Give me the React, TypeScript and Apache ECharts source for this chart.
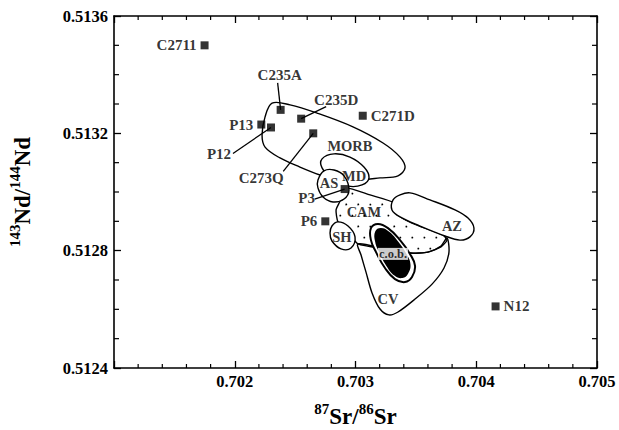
import React, { useEffect, useRef } from "react";
import * as echarts from "echarts";

// Axis extents (87Sr/86Sr on x, 143Nd/144Nd on y)
const X_MIN = 0.701;
const X_MAX = 0.705;
const X_STEP = 0.001;
const Y_MIN = 0.5124;
const Y_MAX = 0.5136;
const Y_STEP = 0.0004;

// Minor tick positions between the labelled ticks
const xMinorTicks = [
  0.7012, 0.7014, 0.7016, 0.7018, 0.7022, 0.7024, 0.7026, 0.7028,
  0.7032, 0.7034, 0.7036, 0.7038, 0.7042, 0.7044, 0.7046, 0.7048,
];
const yMinorTicks = [0.5125, 0.5126, 0.5127, 0.5129, 0.513, 0.5131, 0.5133, 0.5134, 0.5135];

// Analysed samples
const sampleNames = ["C2711", "C235A", "P13", "P12", "C235D", "C273Q", "C271D", "P3", "P6", "N12"];
const srRatio = [0.70175, 0.70238, 0.70222, 0.7023, 0.70255, 0.70265, 0.70306, 0.70291, 0.70275, 0.70416];
const ndRatio = [0.5135, 0.51328, 0.51323, 0.51322, 0.51325, 0.5132, 0.51326, 0.51301, 0.5129, 0.51261];

// Reference field outlines, in data units [Sr, Nd]
const morbField: [number, number][] = [
  [0.702309, 0.513303], [0.702458, 0.513297], [0.702681, 0.513269], [0.702979, 0.513222],
  [0.703228, 0.513167], [0.703369, 0.513119], [0.70341, 0.513082], [0.703352, 0.513055],
  [0.703203, 0.513048], [0.703037, 0.513041], [0.702872, 0.513038], [0.702706, 0.513058],
  [0.70254, 0.513085], [0.702375, 0.513116], [0.702251, 0.513153], [0.702226, 0.513194],
  [0.702251, 0.513256],
];
const camField: [number, number][] = [
  [0.702913, 0.513014], [0.70312, 0.51299], [0.703327, 0.512962], [0.703344, 0.512925],
  [0.703468, 0.512894], [0.703725, 0.512853], [0.703758, 0.512836], [0.703708, 0.512813],
  [0.7036, 0.512795], [0.703451, 0.512792], [0.703244, 0.512806], [0.703021, 0.512823],
  [0.702938, 0.512864], [0.702855, 0.512898], [0.702839, 0.512939], [0.702872, 0.512969],
];
const cvField: [number, number][] = [
  [0.703021, 0.512823], [0.703244, 0.512806], [0.703451, 0.512792], [0.7036, 0.512795],
  [0.703708, 0.512816], [0.703758, 0.512843], [0.703774, 0.512795], [0.703733, 0.512741],
  [0.703634, 0.512686], [0.703493, 0.512635], [0.703352, 0.512591], [0.703277, 0.512581],
  [0.703203, 0.512601], [0.703137, 0.512656], [0.703087, 0.512727], [0.703046, 0.512785],
];
const azField: [number, number][] = [
  [0.703369, 0.51299], [0.703451, 0.512997], [0.703617, 0.512973], [0.703824, 0.512939],
  [0.703932, 0.512911], [0.703981, 0.512877], [0.703948, 0.512847], [0.703865, 0.512836],
  [0.703741, 0.51285], [0.703534, 0.512884], [0.703369, 0.512915], [0.703302, 0.512939],
  [0.703311, 0.512973],
];
const shField: [number, number][] = [
  [0.702805, 0.512884], [0.702855, 0.512898], [0.702938, 0.512884], [0.702996, 0.512847],
  [0.702963, 0.512809], [0.70288, 0.512806], [0.702805, 0.512833], [0.702789, 0.51286],
];
const mdField: [number, number][] = [
  [0.702723, 0.513113], [0.702822, 0.51313], [0.702954, 0.513119], [0.70307, 0.513085],
  [0.703112, 0.513048], [0.703054, 0.513024], [0.702938, 0.51302], [0.702814, 0.513041],
  [0.702723, 0.513082],
];
const asField: [number, number][] = [
  [0.702689, 0.513041], [0.702739, 0.513072], [0.702822, 0.513075], [0.702905, 0.513055],
  [0.702946, 0.513007], [0.702905, 0.512976], [0.702814, 0.512966], [0.702731, 0.512983],
  [0.702689, 0.513014],
];
const cobField: [number, number][] = [
  [0.703128, 0.512877], [0.703186, 0.512891], [0.703269, 0.512877], [0.703369, 0.512836],
  [0.703451, 0.512789], [0.703493, 0.512748], [0.703468, 0.51271], [0.70341, 0.512693],
  [0.703327, 0.512703], [0.703244, 0.512741], [0.70317, 0.512795], [0.703128, 0.512836],
];

// Field names and where their names sit
const fieldNames = ["MORB", "AS", "MD", "CAM", "SH", "AZ", "CV", "c.o.b."];
const fieldLabelSr = [0.702954, 0.702781, 0.702988, 0.70307, 0.702888, 0.703799, 0.703269, 0.703311];
const fieldLabelNd = [0.513157, 0.513031, 0.513055, 0.512932, 0.512847, 0.512884, 0.512635, 0.512789];

const FONT = "Liberation Serif";

// Label placement for each sample (pixel offsets) and leader-line ends
const labelLayout: Record<string, { position?: string; offset?: [number, number]; leader?: [number, number] }> = {
  C2711: { position: "left" },
  C235A: { offset: [-1, -35], leader: [-3, -27] },
  P13: { position: "left" },
  P12: { offset: [-52, 27], leader: [-38, 26] },
  C235D: { offset: [35, -19], leader: [25, -12] },
  C273Q: { offset: [-52, 45], leader: [-30, 38] },
  C271D: { position: "right" },
  P3: { offset: [-38, 9], leader: [-30, 10] },
  P6: { position: "left" },
  N12: { position: "right" },
};

// Even-odd test of a pixel point against a polygon
function inside(px: number, py: number, poly: number[][]) {
  let c = false;
  for (let i = 0, j = poly.length - 1; i < poly.length; j = i++) {
    const [xi, yi] = poly[i];
    const [xj, yj] = poly[j];
    if (yi > py !== yj > py && px < ((xj - xi) * (py - yi)) / (yj - yi) + xi) c = !c;
  }
  return c;
}

function makeAxis(dir: "x" | "y", position: string, withLabels: boolean) {
  const isX = dir === "x";
  return {
    type: "value",
    min: isX ? X_MIN : Y_MIN,
    max: isX ? X_MAX : Y_MAX,
    interval: isX ? X_STEP : Y_STEP,
    position,
    axisLine: { show: true, onZero: false, lineStyle: { color: "#000", width: 1.6 } },
    axisTick: { show: true, inside: true, length: 7, lineStyle: { color: "#000", width: 1.3 } },
    splitLine: { show: false },
    axisLabel: {
      show: true,
      margin: isX ? 5 : 6,
      color: "#000",
      fontFamily: FONT,
      fontSize: 16.5,
      fontWeight: "bold",
      formatter: !withLabels
        ? () => ""
        : isX
        ? (v: number) => (v < X_MIN + X_STEP / 2 ? "" : v.toFixed(3))
        : (v: number) => v.toFixed(4),
    },
  };
}

export default function App() {
  const ref = useRef<HTMLDivElement>(null);

  useEffect(() => {
    if (!ref.current) return;
    const chart = echarts.init(ref.current, undefined, { renderer: "svg" });

    const fields = [
      { outline: morbField, fill: "none", smooth: 0.35, dots: false },
      { outline: camField, fill: "none", smooth: 0.2, dots: true },
      { outline: cvField, fill: "none", smooth: 0.3, dots: false },
      { outline: azField, fill: "#fff", smooth: 0.35, dots: false },
      { outline: shField, fill: "#fff", smooth: 0.4, dots: false },
      { outline: mdField, fill: "#fff", smooth: 0.4, dots: false },
      { outline: asField, fill: "#fff", smooth: 0.4, dots: false },
    ];

    const fieldSeries = fields.map((f) => ({
      type: "custom",
      silent: true,
      clip: false,
      data: [f.outline[0]],
      renderItem: (_p: any, api: any) => {
        const pts = f.outline.map((pt) => api.coord(pt));
        const children: any[] = [
          {
            type: "polygon",
            shape: { points: pts, smooth: f.smooth },
            style: { fill: f.fill, stroke: "#000", lineWidth: 1.4 },
          },
        ];
        if (f.dots) {
          // stippled fill: staggered dot grid kept inside the outline
          const xs = pts.map((p: number[]) => p[0]);
          const ys = pts.map((p: number[]) => p[1]);
          const x0 = Math.min(...xs), x1 = Math.max(...xs);
          const y0 = Math.min(...ys), y1 = Math.max(...ys);
          let row = 0;
          for (let y = y0 + 5; y < y1; y += 11, row++) {
            for (let x = x0 + 4 + (row % 2) * 6; x < x1; x += 12) {
              if (inside(x, y, pts) && inside(x + 3, y, pts) && inside(x - 3, y, pts) && inside(x, y + 3, pts) && inside(x, y - 3, pts)) {
                children.push({ type: "circle", shape: { cx: x, cy: y, r: 0.9 }, style: { fill: "#000" } });
              }
            }
          }
        }
        return { type: "group", children };
      },
    }));

    const cobSeries = {
      type: "custom",
      silent: true,
      clip: false,
      data: [cobField[0]],
      renderItem: (_p: any, api: any) => {
        const pts = cobField.map((pt) => api.coord(pt));
        const cx = pts.reduce((s: number, p: number[]) => s + p[0], 0) / pts.length;
        const cy = pts.reduce((s: number, p: number[]) => s + p[1], 0) / pts.length;
        const inner = pts.map((p: number[]) => [cx + (p[0] - cx) * 0.8, cy + (p[1] - cy) * 0.86]);
        return {
          type: "group",
          children: [
            { type: "polygon", shape: { points: pts, smooth: 0.45 }, style: { fill: "#fff", stroke: "#000", lineWidth: 2 } },
            { type: "polygon", shape: { points: inner, smooth: 0.45 }, style: { fill: "#000", stroke: "none" } },
          ],
        };
      },
    };

    // Minor ticks on all four sides of the frame
    const xMinorSeries = {
      type: "custom",
      silent: true,
      clip: false,
      data: xMinorTicks.map((v) => [v, Y_MIN]),
      renderItem: (params: any, api: any) => {
        const v = xMinorTicks[params.dataIndex];
        const b = api.coord([v, Y_MIN]);
        const t = api.coord([v, Y_MAX]);
        return {
          type: "group",
          children: [
            { type: "line", shape: { x1: b[0], y1: b[1], x2: b[0], y2: b[1] - 4 }, style: { stroke: "#000", lineWidth: 1.2 } },
            { type: "line", shape: { x1: t[0], y1: t[1], x2: t[0], y2: t[1] + 4 }, style: { stroke: "#000", lineWidth: 1.2 } },
          ],
        };
      },
    };
    const yMinorSeries = {
      type: "custom",
      silent: true,
      clip: false,
      data: yMinorTicks.map((v) => [X_MIN, v]),
      renderItem: (params: any, api: any) => {
        const v = yMinorTicks[params.dataIndex];
        const l = api.coord([X_MIN, v]);
        const r = api.coord([X_MAX, v]);
        return {
          type: "group",
          children: [
            { type: "line", shape: { x1: l[0], y1: l[1], x2: l[0] + 5, y2: l[1] }, style: { stroke: "#000", lineWidth: 1.2 } },
            { type: "line", shape: { x1: r[0], y1: r[1], x2: r[0] - 5, y2: r[1] }, style: { stroke: "#000", lineWidth: 1.2 } },
          ],
        };
      },
    };

    const leaderIdx = sampleNames.map((n, i) => (labelLayout[n].leader ? i : -1)).filter((i) => i >= 0);
    const leaderSeries = {
      type: "custom",
      silent: true,
      clip: false,
      data: leaderIdx.map((i) => [srRatio[i], ndRatio[i]]),
      renderItem: (params: any, api: any) => {
        const i = leaderIdx[params.dataIndex];
        const p = api.coord([srRatio[i], ndRatio[i]]);
        const d = labelLayout[sampleNames[i]].leader as [number, number];
        return {
          type: "line",
          shape: { x1: p[0], y1: p[1], x2: p[0] + d[0], y2: p[1] + d[1] },
          style: { stroke: "#000", lineWidth: 1.3 },
        };
      },
    };

    const fieldLabelSeries = {
      type: "scatter",
      silent: true,
      symbolSize: 0,
      data: fieldNames.map((n, i) => ({
        name: n,
        value: [fieldLabelSr[i], fieldLabelNd[i]],
        label:
          n === "c.o.b."
            ? { fontSize: 12.5, backgroundColor: "#fff", padding: [0, 1, -1, 1] }
            : {},
      })),
      label: {
        show: true,
        position: "inside",
        formatter: "{b}",
        color: "#000",
        textBorderWidth: 0,
        fontFamily: FONT,
        fontSize: 14.5,
        fontWeight: "bold",
      },
    };

    const sampleSeries = {
      type: "scatter",
      symbol: "rect",
      symbolSize: 8,
      itemStyle: { color: "#000" },
      data: sampleNames.map((n, i) => {
        const lay = labelLayout[n];
        return {
          name: n,
          value: [srRatio[i], ndRatio[i]],
          label: lay.position
            ? { position: lay.position, distance: 4 }
            : { position: "inside", offset: lay.offset },
        };
      }),
      label: {
        show: true,
        formatter: "{b}",
        color: "#000",
        textBorderWidth: 0,
        fontFamily: FONT,
        fontSize: 15,
        fontWeight: "bold",
      },
    };

    const nameRich = () => ({
      sup: { fontSize: 15, fontFamily: FONT, fontWeight: "bold", color: "#000", verticalAlign: "top", lineHeight: 27 },
      big: { fontSize: 23, fontFamily: FONT, fontWeight: "bold", color: "#000", verticalAlign: "bottom", lineHeight: 27 },
    });

    const xBottom = {
      ...makeAxis("x", "bottom", true),
      name: "{sup|87}{big|Sr/}{sup|86}{big|Sr}",
      nameLocation: "middle",
      nameGap: 33,
      nameTextStyle: { rich: nameRich() },
    };
    const yLeft = {
      ...makeAxis("y", "left", true),
      name: "{sup|143}{big|Nd/}{sup|144}{big|Nd}",
      nameLocation: "middle",
      nameRotate: 90,
      nameGap: 80,
      nameTextStyle: { rich: nameRich() },
    };

    chart.setOption({
      animation: false,
      grid: { left: 114, right: 22, top: 16, bottom: 62, outerBoundsMode: "none" },
      xAxis: [xBottom, makeAxis("x", "top", false)],
      yAxis: [yLeft, makeAxis("y", "right", false)],
      series: [
        ...fieldSeries,
        cobSeries,
        xMinorSeries,
        yMinorSeries,
        fieldLabelSeries,
        leaderSeries,
        sampleSeries,
      ],
    } as any);

    return () => chart.dispose();
  }, []);

  return (
    <div
      ref={ref}
      style={{ position: "fixed", left: 0, top: 0, width: 619, height: 430, background: "#fff" }}
    />
  );
}
